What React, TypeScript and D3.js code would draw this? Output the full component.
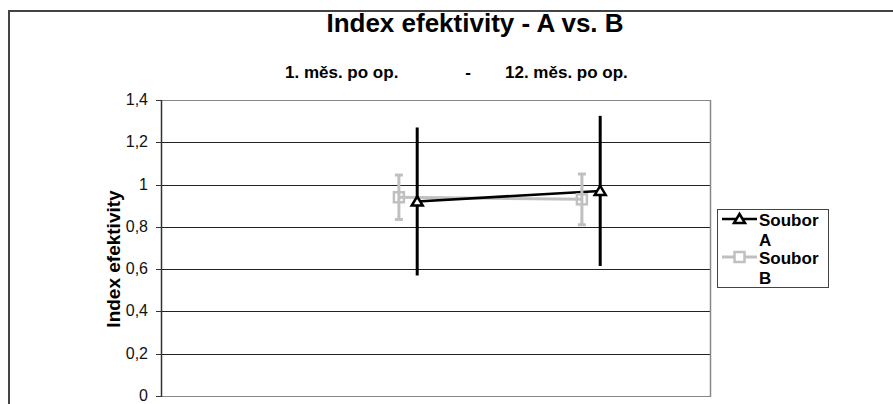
import React from "react";
import * as d3 from "d3";

const titleText = "Index efektivity - A vs. B";
const categories = ["1. měs. po op.", "12. měs. po op."];
const seriesNames = ["Soubor A", "Soubor B"];
const yAxisTitle = "Index efektivity";

// x positions (scatter-like), values and error magnitudes
const xA = [1.4, 2.4];
const valuesA = [0.92, 0.97];
const errA = [0.35, 0.355];

const xB = [1.3, 2.3];
const valuesB = [0.94, 0.93];
const errB = [0.105, 0.12];

const yTicks = [0, 0.2, 0.4, 0.6, 0.8, 1, 1.2, 1.4];

const W = 893;
const H = 404;
const plot = { left: 161, right: 710, top: 100, bottom: 396 };

const FONT = "'Liberation Sans', Arial, sans-serif";
const colA = "#000000";
const colB = "#c0c0c0";

export default function App() {
  const x = d3.scaleLinear().domain([0, 3]).range([plot.left, plot.right]);
  const y = d3.scaleLinear().domain([0, 1.4]).range([plot.bottom, plot.top]);
  const fmt = (v: number) => d3.format("~g")(v).replace(".", ",");

  const line = d3.line<[number, number]>().x((d) => x(d[0])).y((d) => y(d[1]));
  const ptsA: [number, number][] = xA.map((v, i) => [v, valuesA[i]]);
  const ptsB: [number, number][] = xB.map((v, i) => [v, valuesB[i]]);

  const tri = "M0,-5L5.5,4L-5.5,4Z";

  const legX = 717;
  const legY = 209;

  return (
    <svg
      width={W}
      height={H}
      style={{ position: "absolute", left: 0, top: 0, background: "#fff" }}
      fontFamily={FONT}
    >
      <rect x={0} y={0} width={W} height={H} fill="#fff" />
      {/* outer chart border */}
      <rect x={9} y={11} width={2000} height={2000} fill="none" stroke="#444" strokeWidth={2} />

      {/* title */}
      <text x={475} y={32} textAnchor="middle" fontSize={26} fontWeight="bold">
        {titleText}
      </text>
      {/* subtitle */}
      <text x={285} y={78} fontSize={17} fontWeight="bold">{categories[0]}</text>
      <text x={468} y={78} fontSize={17} fontWeight="bold" textAnchor="middle">-</text>
      <text x={505} y={78} fontSize={17} fontWeight="bold">{categories[1]}</text>

      {/* gridlines */}
      {yTicks.map((t) => (
        <line
          key={"g" + t}
          x1={plot.left}
          x2={plot.right}
          y1={Math.round(y(t)) + 0.5}
          y2={Math.round(y(t)) + 0.5}
          stroke={t === 0 || t === 1.4 ? "#888" : "#222"}
          strokeWidth={1}
        />
      ))}
      {/* plot border right */}
      <line x1={plot.right + 0.5} x2={plot.right + 0.5} y1={plot.top} y2={plot.bottom + 1} stroke="#888" strokeWidth={1.5} />
      {/* y axis */}
      <line x1={plot.left + 0.5} x2={plot.left + 0.5} y1={plot.top} y2={plot.bottom + 1} stroke="#333" strokeWidth={1.5} />
      {yTicks.map((t) => (
        <g key={"t" + t}>
          <line x1={156} x2={plot.left} y1={Math.round(y(t)) + 0.5} y2={Math.round(y(t)) + 0.5} stroke="#333" />
          <text x={148} y={y(t) + 5} textAnchor="end" fontSize={16} fill="#111">
            {fmt(t)}
          </text>
        </g>
      ))}
      <text
        transform={`translate(120, 259) rotate(-90)`}
        textAnchor="middle"
        fontSize={19}
        fontWeight="bold"
      >
        {yAxisTitle}
      </text>

      {/* series lines */}
      <path d={line(ptsB) || ""} fill="none" stroke={colB} strokeWidth={3} />
      <path d={line(ptsA) || ""} fill="none" stroke={colA} strokeWidth={2.5} />

      {/* B error bars */}
      {ptsB.map((p, i) => (
        <g key={"eb" + i} stroke={colB} strokeWidth={3}>
          <line x1={x(p[0])} x2={x(p[0])} y1={y(p[1] + errB[i])} y2={y(p[1] - errB[i])} />
          <line x1={x(p[0]) - 4} x2={x(p[0]) + 4} y1={y(p[1] + errB[i])} y2={y(p[1] + errB[i])} />
          <line x1={x(p[0]) - 4} x2={x(p[0]) + 4} y1={y(p[1] - errB[i])} y2={y(p[1] - errB[i])} />
        </g>
      ))}
      {/* B markers */}
      {ptsB.map((p, i) => (
        <rect key={"mb" + i} x={x(p[0]) - 5} y={y(p[1]) - 5} width={10} height={10} fill="none" stroke={colB} strokeWidth={2.5} />
      ))}
      {/* A error bars */}
      {ptsA.map((p, i) => (
        <line key={"ea" + i} x1={x(p[0])} x2={x(p[0])} y1={y(p[1] + errA[i])} y2={y(p[1] - errA[i])} stroke={colA} strokeWidth={3} />
      ))}
      {/* A markers */}
      {ptsA.map((p, i) => (
        <path key={"ma" + i} d={tri} transform={`translate(${x(p[0])},${y(p[1])})`} fill="#fff" stroke={colA} strokeWidth={2.5} />
      ))}

      {/* legend */}
      <rect x={legX + 0.5} y={legY + 0.5} width={111} height={78} fill="#fff" stroke="#444" strokeWidth={1} />
      <line x1={722} x2={757} y1={219} y2={219} stroke={colA} strokeWidth={2.5} />
      <path d={tri} transform="translate(739.5,219)" fill="#fff" stroke={colA} strokeWidth={2.5} />
      <line x1={722} x2={757} y1={257} y2={257} stroke={colB} strokeWidth={3} />
      <rect x={734.5} y={252} width={10} height={10} fill="#fff" stroke={colB} strokeWidth={2.5} />
      <text x={759} y={226} fontSize={17} fontWeight="bold">{seriesNames[0].split(" ")[0]}</text>
      <text x={759} y={246} fontSize={17} fontWeight="bold">{seriesNames[0].split(" ")[1]}</text>
      <text x={759} y={264} fontSize={17} fontWeight="bold">{seriesNames[1].split(" ")[0]}</text>
      <text x={759} y={284} fontSize={17} fontWeight="bold">{seriesNames[1].split(" ")[1]}</text>
    </svg>
  );
}
